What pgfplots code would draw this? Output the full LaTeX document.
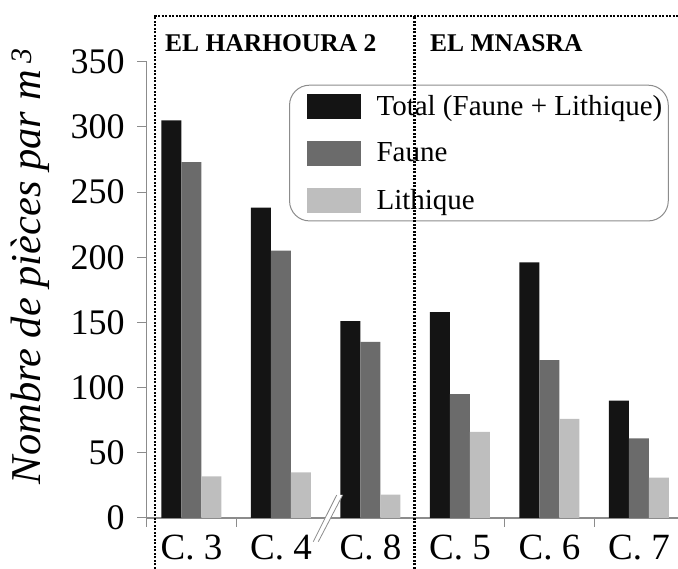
\documentclass[border=0pt]{standalone}
\usepackage{fontspec}
\setmainfont{Liberation Serif}
\usepackage{pgfplots}
\pgfplotsset{compat=1.18}

\definecolor{cTot}{HTML}{141414}
\definecolor{cFau}{HTML}{6B6B6B}
\definecolor{cLit}{HTML}{BEBEBE}
\definecolor{axgray}{HTML}{8C8C8C}

% plain rectangular legend swatch in the colour of the series
\pgfplotsset{swatch/.style={legend image code/.code={%
  \path (0pt,0pt);
  \fill[#1, sharp corners] (11pt,-12.5pt) rectangle (65pt,12.5pt);}}}

\begin{document}
\begin{tikzpicture}
\begin{axis}[
  at={(146.75pt,51pt)}, anchor=south west,
  scale only axis, width=537pt, height=456.3pt,
  xmin=-0.5, xmax=5.5, ymin=0, ymax=350,
  axis x line=bottom, axis y line=left,
  axis line style={-, draw=axgray, line width=1.2pt},
  ybar=0pt, bar width=20pt,
  xtick={0,1,2,3,4,5},
  xticklabels={C. 3, C. 4, C. 8, C. 5, C. 6, C. 7},
  major x tick style={draw=none},
  minor xtick={-0.5,0.5,1.5,3.5,4.5},
  ytick={0,50,100,150,200,250,300,350},
  tick align=outside, major tick length=9.5pt, minor tick length=9pt,
  tick style={axgray, line width=1pt},
  xticklabel style={font=\fontsize{37}{40}\selectfont, yshift=-4pt},
  yticklabel style={font=\fontsize{36}{40}\selectfont, xshift=-9pt},
  /pgf/number format/assume math mode=true,
  legend style={at={(0.265,0.9496)}, anchor=north west,
    draw=axgray, line width=1pt, rounded corners=20pt,
    font=\fontsize{29}{31}\selectfont,
    inner xsep=6pt, inner ysep=7pt, row sep=20pt, column sep=16pt,
    nodes={inner xsep=0pt, inner ysep=3pt}},
  legend cell align=left,
]
\addplot[fill=cTot, draw=none, swatch=cTot] coordinates {
  (0,305) (1,238) (2,151) (3,158) (4,196) (5,90)};
\addlegendentry{Total (Faune + Lithique)}
\addplot[fill=cFau, draw=none, swatch=cFau] coordinates {
  (0,273) (1,205) (2,135) (3,95) (4,121) (5,61)};
\addlegendentry{Faune}
\addplot[fill=cLit, draw=none, swatch=cLit] coordinates {
  (0,32) (1,35) (2,18) (3,66) (4,76) (5,31)};
\addlegendentry{Lithique}
\end{axis}
% axis break mark
\fill[white] (313.3pt,27.3pt) -- (336.7pt,74pt) -- (342.7pt,74pt) -- (318.3pt,27.3pt) -- cycle;
\draw[axgray, line width=0.8pt] (313.3pt,27.3pt) -- (336.7pt,74pt);
\draw[axgray, line width=0.8pt] (318.3pt,27.3pt) -- (342.7pt,74pt);
% site frames
\draw[black, line width=2.2pt, dash pattern=on 2pt off 1.5pt]
  (155pt,0pt) -- (155pt,553.3pt) -- (678pt,553.3pt);
\draw[black, line width=2.2pt, dash pattern=on 2pt off 1.5pt]
  (414.5pt,0pt) -- (414.5pt,553.3pt);
\node[anchor=base west, inner sep=0pt, font=\bfseries\fontsize{25.5}{28}\selectfont]
  at (165pt,517.3pt) {EL HARHOURA 2};
\node[anchor=base west, inner sep=0pt, font=\bfseries\fontsize{25.5}{28}\selectfont]
  at (430pt,517.3pt) {EL MNASRA};
\node[rotate=90, font=\itshape\fontsize{42.5}{45}\selectfont]
  at (30pt,303pt) {Nombre de pièces par m\,\textsuperscript{3}};
\pgfresetboundingbox
\path[use as bounding box] (0pt,0pt) rectangle (678pt,569pt);
\end{tikzpicture}
\end{document}
